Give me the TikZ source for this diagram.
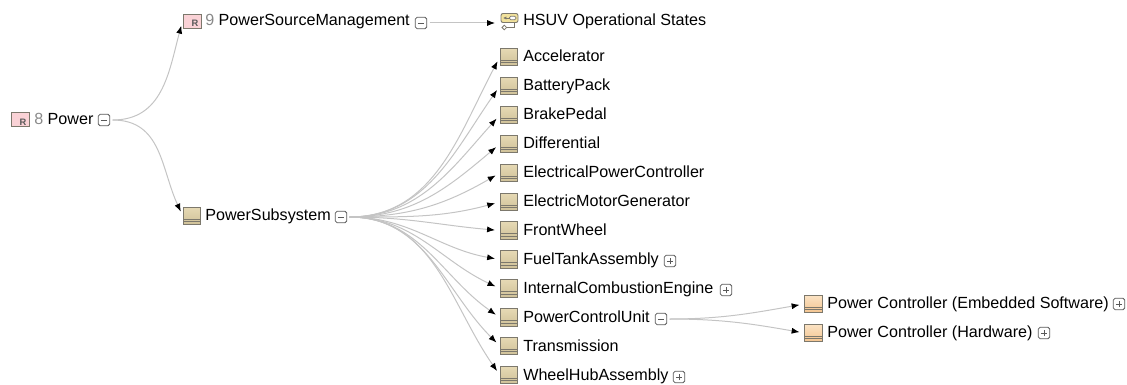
\documentclass[tikz,border=0pt]{standalone}
\usepackage{fontspec}
\setmainfont{Liberation Sans}
\usetikzlibrary{arrows.meta,shadings}
\definecolor{linkgray}{HTML}{C4C4C4}
\definecolor{numgray}{HTML}{8A8A8A}
\definecolor{frameblock}{HTML}{7C786C}
\definecolor{blocktop}{HTML}{E6D9B4}
\definecolor{blockbot}{HTML}{CFC198}
\definecolor{parttop}{HTML}{FBE3C4}
\definecolor{partbot}{HTML}{F3C490}
\definecolor{reqfill}{HTML}{FAD2D6}
\definecolor{statefill}{HTML}{F2E29C}
\tikzset{
  blockicon/.style={shape=rectangle,draw=frameblock,line width=0.7pt,top color=blocktop,bottom color=blockbot,
    minimum width=13pt,minimum height=13pt,inner sep=0pt,
    path picture={
      \draw[frameblock,line width=0.5pt] ([yshift=4.2pt]path picture bounding box.south west) -- ([yshift=4.2pt]path picture bounding box.south east);
      \draw[frameblock,line width=0.5pt] ([yshift=2.2pt]path picture bounding box.south west) -- ([yshift=2.2pt]path picture bounding box.south east);
    }},
  particon/.style={blockicon,top color=parttop,bottom color=partbot},
  reqicon/.style={shape=rectangle,draw=frameblock,line width=0.7pt,fill=reqfill,minimum width=13.5pt,minimum height=10.5pt,
    inner sep=0pt,text=black!65,font=\bfseries\fontsize{7}{8}\selectfont,text width=9.5pt,align=right,text height=9pt,text depth=0pt},
  stateicon/.style={shape=rectangle,minimum width=14pt,minimum height=15.5pt,inner sep=0pt,
    path picture={
      \begin{scope}[shift={(path picture bounding box.center)}]
        \draw[frameblock,line width=0.7pt,fill=statefill,rounded corners=1.5pt] (-8.5,-9.5) rectangle (8.5,-0.5);
        \draw[frameblock,line width=0.55pt,-{Latex[length=2.5pt,width=2.5pt]}] (0,-5) -- (-6.5,-5);
        \draw[frameblock,line width=0.55pt,fill=white,rounded corners=1pt] (0,-6.8) rectangle (6.5,-3.2);
        \draw[frameblock,line width=0.55pt] (4.5,-0.5) -- (4.5,4.5) -- (-3,4.5);
        \draw[frameblock,line width=0.55pt,fill=white] (-7.5,4.5) -- (-5.2,2.2) -- (-3,4.5) -- (-5.2,6.8) -- cycle;
      \end{scope}
    }},
  textlabel/.style={anchor=west,inner sep=0pt,font=\fontsize{12.1}{14}\selectfont,text height=10.2pt,text depth=2.6pt},
  minusbox/.style={shape=rectangle,rounded corners=1.2pt,draw=black!65,line width=0.55pt,minimum size=8.5pt,inner sep=0pt,
    path picture={\draw[black!65,line width=0.55pt] ([xshift=-2.4pt]path picture bounding box.center) -- ([xshift=2.4pt]path picture bounding box.center);}},
  plusbox/.style={minusbox,
    path picture={\draw[black!65,line width=0.55pt] ([xshift=-2.4pt]path picture bounding box.center) -- ([xshift=2.4pt]path picture bounding box.center);
      \draw[black!65,line width=0.55pt] ([yshift=-2.4pt]path picture bounding box.center) -- ([yshift=2.4pt]path picture bounding box.center);}},
  link/.style={draw=linkgray,line width=0.75pt,-{Latex[black,length=6pt,width=4.6pt]},shorten >=3.6pt,shorten <=2pt},
}

\begin{document}
\begin{tikzpicture}[x=0.75pt,y=-0.75pt]
      \useasboundingbox (0,0) rectangle (1127,385);
      % root
      \node[reqicon] (i0) at (20,119) {R};
      \node[textlabel] (l0) at (34,119) {\textcolor{numgray}{8} Power};
      \node[minusbox] (t0) at (104,120) {};
      % first level
      \node[reqicon] (i1) at (192,21) {R};
      \node[textlabel] (l1) at (205,20.5) {\textcolor{numgray}{9} PowerSourceManagement};
      \node[minusbox] (t1) at (421,23) {};
      \node[blockicon] (i2) at (192,216) {};
      \node[textlabel] (l2) at (205,215) {PowerSubsystem};
      \node[minusbox] (t2) at (341,217) {};
      % second level
      \node[stateicon] (i3) at (509.5,23) {};
      \node[textlabel] (l3) at (523,20.5) {HSUV Operational States};
      \node[blockicon] (i4) at (509,57) {};
      \node[textlabel] (l4) at (523,56) {Accelerator};
      \node[blockicon] (i5) at (509,86) {};
      \node[textlabel] (l5) at (523,85) {BatteryPack};
      \node[blockicon] (i6) at (509,115) {};
      \node[textlabel] (l6) at (523,114) {BrakePedal};
      \node[blockicon] (i7) at (509,144) {};
      \node[textlabel] (l7) at (523,143) {Differential};
      \node[blockicon] (i8) at (509,173) {};
      \node[textlabel] (l8) at (523,172) {ElectricalPowerController};
      \node[blockicon] (i9) at (509,202) {};
      \node[textlabel] (l9) at (523,201) {ElectricMotorGenerator};
      \node[blockicon] (i10) at (509,230.5) {};
      \node[textlabel] (l10) at (523,230) {FrontWheel};
      \node[blockicon] (i11) at (509,259.5) {};
      \node[textlabel] (l11) at (523,259) {FuelTankAssembly};
      \node[plusbox] (t11) at (670,261) {};
      \node[blockicon] (i12) at (509,288.5) {};
      \node[textlabel] (l12) at (523,288) {InternalCombustionEngine};
      \node[plusbox] (t12) at (726,290) {};
      \node[blockicon] (i13) at (509,317.5) {};
      \node[textlabel] (l13) at (523,317) {PowerControlUnit};
      \node[minusbox] (t13) at (661,319) {};
      \node[blockicon] (i14) at (509,346) {};
      \node[textlabel] (l14) at (523,346) {Transmission};
      \node[blockicon] (i15) at (509,375) {};
      \node[textlabel] (l15) at (523,375) {WheelHubAssembly};
      \node[plusbox] (t15) at (679,377) {};
      % third level
      \node[particon] (i16) at (813.5,304) {};
      \node[textlabel] (l16) at (827,303) {Power Controller (Embedded Software)};
      \node[plusbox] (t16) at (1119,304) {};
      \node[particon] (i17) at (813.5,333) {};
      \node[textlabel] (l17) at (827,332) {Power Controller (Hardware)};
      \node[plusbox] (t17) at (1044,333) {};
      % links
      \path (t0.east) edge[link,out=0,in=-105,looseness=1.1] (i1.west) ;
      \path (t0.east) edge[link,out=0,in=115,looseness=1.1] (i2.west) ;
      \path (t1.east) edge[link] (i3.west) ;
      \path (t2.east) edge[link,out=0,in=-118] (i4.west) ;
      \path (t2.east) edge[link,out=0,in=-125] (i5.west) ;
      \path (t2.east) edge[link,out=0,in=-132] (i6.west) ;
      \path (t2.east) edge[link,out=0,in=-140] (i7.west) ;
      \path (t2.east) edge[link,out=0,in=-150] (i8.west) ;
      \path (t2.east) edge[link,out=0,in=-165] (i9.west) ;
      \path (t2.east) edge[link,out=0,in=175] (i10.west) ;
      \path (t2.east) edge[link,out=0,in=170] (i11.west) ;
      \path (t2.east) edge[link,out=0,in=155] (i12.west) ;
      \path (t2.east) edge[link,out=0,in=145] (i13.west) ;
      \path (t2.east) edge[link,out=0,in=135] (i14.west) ;
      \path (t2.east) edge[link,out=0,in=125] (i15.west) ;
      \path (t13.east) edge[link,out=0,in=-170] (i16.west) ;
      \path (t13.east) edge[link,out=0,in=170] (i17.west) ;

    \end{tikzpicture}
\end{document}
